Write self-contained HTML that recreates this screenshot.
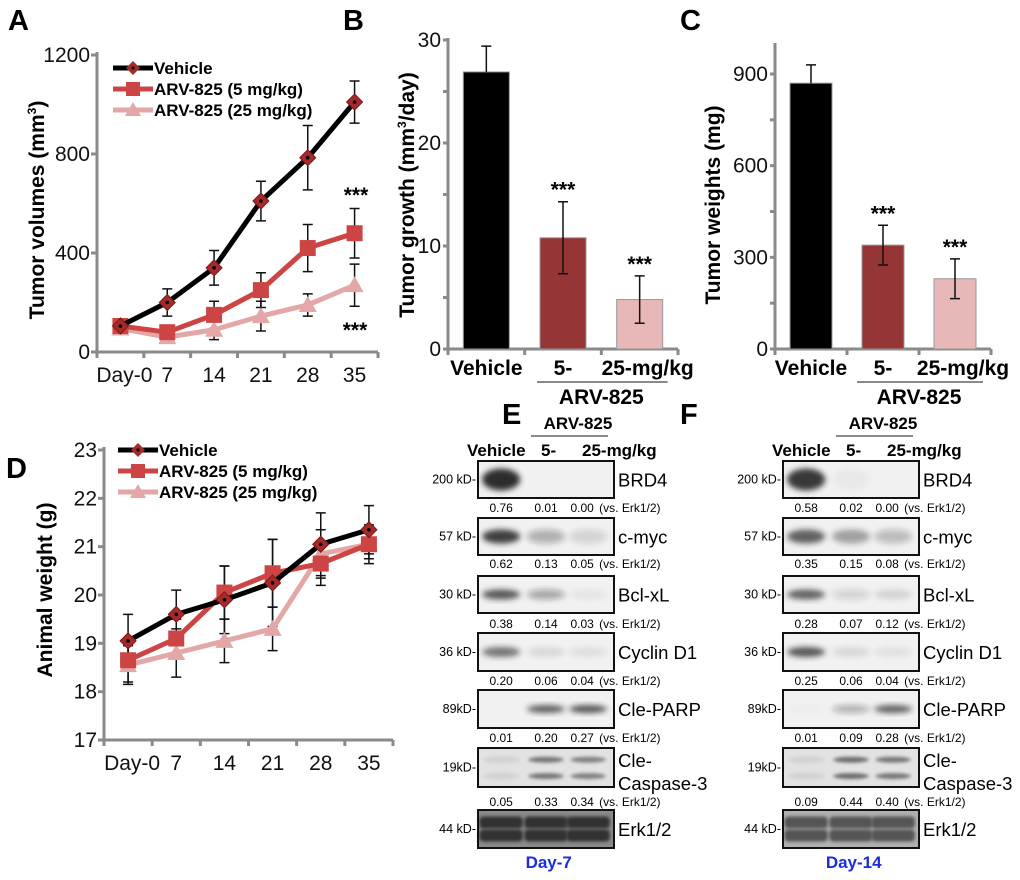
<!DOCTYPE html>
<html><head><meta charset="utf-8"><style>
body{margin:0;background:#fff;}
svg{display:block;font-family:"Liberation Sans",Arial,sans-serif;}
.pl{font-size:29px;font-weight:bold;}
.tk{font-size:21px;fill:#111;}
.ax{stroke:#8a8a8a;stroke-width:3;fill:none;}
.ttl{font-size:21px;font-weight:bold;}
.lg{font-size:17px;font-weight:bold;}
.bl{font-size:17px;font-weight:bold;}
.kd{font-size:12.5px;}
.val{font-size:12px;}
.pn{font-size:18.5px;}
</style></head><body>
<svg id="fig" width="1020" height="880" viewBox="0 0 1020 880">
<defs>
<filter id="blur" x="-50%" y="-50%" width="200%" height="200%"><feGaussianBlur stdDeviation="3"/></filter>
<filter id="blur2" x="-50%" y="-50%" width="200%" height="200%"><feGaussianBlur stdDeviation="1.6"/></filter>
</defs>
<text x="8" y="30" class="pl">A</text>
<text x="343" y="30" class="pl">B</text>
<text x="680" y="30" class="pl">C</text>
<text x="6" y="478" class="pl">D</text>
<text x="502" y="424" class="pl">E</text>
<text x="680" y="424" class="pl">F</text>
<g id="gA"></g>
<g id="gB"></g>
<g id="gC"></g>
<g id="gD"></g>
<g id="gE"></g>
<g id="gF"></g>
</svg>
<script>
// ---- Panel A data ----
const daysA = ["Day-0","7","14","21","28","35"];
const volVehicle = [105,200,340,610,785,1010];
const volVehicleErr = [0,55,70,80,130,85];
const vol5 = [105,80,150,250,420,480];
const vol5Err = [0,20,55,70,95,100];
const vol25 = [95,60,90,145,190,270];
const vol25Err = [0,15,40,60,45,85];
const ticksA = [0,400,800,1200];
// ---- Panel B data ----
const catsB = ["Vehicle","5-","25-mg/kg"];
const growth = [26.9,10.8,4.8];
const growthErr = [2.5,3.5,2.3];
const ticksB = [0,10,20,30];
// ---- Panel C data ----
const weights = [870,340,230];
const weightsErr = [60,65,65];
const ticksC = [0,300,600,900];
// ---- Panel D data ----
const daysD = ["Day-0","7","14","21","28","35"];
const bwVehicle = [19.05,19.6,19.9,20.25,21.05,21.35];
const bwVehicleErr = [0.55,0.5,0.7,0.9,0.65,0.5];
const bw5 = [18.65,19.1,20.05,20.45,20.65,21.05];
const bw5Err = [0.45,0.4,0.55,0.7,0.45,0.3];
const bw25 = [18.55,18.8,19.05,19.3,20.85,21.05];
const bw25Err = [0.4,0.5,0.45,0.45,0.5,0.4];
const ticksD = [17,18,19,20,21,22,23];
// ---- Blot data ----
const blotNames = ["BRD4","c-myc","Bcl-xL","Cyclin D1","Cle-PARP","Cle-Caspase-3","Erk1/2"];
const blotKd = ["200 kD-","57 kD-","30 kD-","36 kD-","89kD-","19kD-","44 kD-"];
const quantE = [["0.76","0.01","0.00"],["0.62","0.13","0.05"],["0.38","0.14","0.03"],["0.20","0.06","0.04"],["0.01","0.20","0.27"],["0.05","0.33","0.34"]];
const quantF = [["0.58","0.02","0.00"],["0.35","0.15","0.08"],["0.28","0.07","0.12"],["0.25","0.06","0.04"],["0.01","0.09","0.28"],["0.09","0.44","0.40"]];
const bandE = [[0.95,0,0],[0.85,0.3,0.15],[0.75,0.35,0.05],[0.6,0.1,0.08],[0,0.7,0.75],[0.1,0.6,0.55],[1,1,1]];
const bandF = [[0.9,0.03,0],[0.7,0.4,0.25],[0.7,0.15,0.12],[0.75,0.1,0.07],[0.02,0.3,0.7],[0.1,0.65,0.6],[1,1,1]];

const NS="http://www.w3.org/2000/svg";
function el(tag,attrs,parent,text){const e=document.createElementNS(NS,tag);for(const k in attrs)e.setAttribute(k,attrs[k]);if(text!==undefined)e.textContent=text;parent.appendChild(e);return e;}

function lineChart(g, cfg){
  const {x0,x1,y0,y1,vmin,vmax,cats,ticks,series} = cfg;
  const n=cats.length, step=(x1-x0)/n;
  const sx=i=>x0+step*(i+0.5);
  const sy=v=>y0-(v-vmin)/(vmax-vmin)*(y0-y1);
  const ya=el("line",{x1:x0,y1:y1-3,x2:x0,y2:y0,class:"ax"},g);
  
  
  const xa=el("line",{x1:x0,y1:y0,x2:x1,y2:y0,class:"ax"},g);
  
  
  for(let i=0;i<=n;i++){el("line",{x1:x0+step*i,y1:y0,x2:x0+step*i,y2:y0+6,class:"ax"},g);}
  ticks.forEach(t=>{
    el("line",{x1:x0-6,y1:sy(t),x2:x0,y2:sy(t),class:"ax"},g);
    const tl=el("text",{x:x0-7,y:sy(t)+7,"text-anchor":"end",class:"tk"},g,String(t));
    
    
  });
  cats.forEach((c,i)=>{
    const tl=el("text",{x:sx(i)+(i===0?4:0),y:y0+30,"text-anchor":"middle",class:"tk"},g,c);
    
    
  });
  series.forEach(s=>{
    s.vals.forEach((v,i)=>{
      const e=s.err[i]; if(!e) return;
      const x=sx(i);
      const eb=el("path",{d:`M${x},${sy(v-e)}V${sy(v+e)}M${x-5},${sy(v-e)}h10M${x-5},${sy(v+e)}h10`,stroke:"#111","stroke-width":1.5,fill:"none"},g);
      
      
    });
  });
  series.slice().reverse().forEach(s=>{
    const pts=s.vals.map((v,i)=>[sx(i),sy(v)]);
    const ln=el("polyline",{points:pts.map(p=>p.join(",")).join(" "),stroke:s.color,"stroke-width":5,fill:"none","stroke-linejoin":"round"},g);
    
    
    pts.forEach(p=>{
      let m;
      if(s.marker==="d"){m=el("path",{d:`M${p[0]},${p[1]-8}L${p[0]+8},${p[1]}L${p[0]},${p[1]+8}L${p[0]-8},${p[1]}Z`,fill:"#a52a2a",stroke:"#7a1a1a","stroke-width":1},g);el("circle",{cx:p[0],cy:p[1],r:1.8,fill:"#000"},g);}
      else if(s.marker==="s"){m=el("rect",{x:p[0]-8,y:p[1]-8,width:16,height:16,fill:s.color},g);}
      else {m=el("path",{d:`M${p[0]},${p[1]-9}L${p[0]+9},${p[1]+7}L${p[0]-9},${p[1]+7}Z`,fill:s.color},g);}
      
      
    });
  });
}
function legend(g,x,y,gap){
  const items=[["Vehicle","#000","d"],["ARV-825 (5 mg/kg)","#cc4444","s"],["ARV-825 (25 mg/kg)","#e3a7a7","t"]];
  items.forEach((it,i)=>{
    const yy=y+i*gap;
    el("line",{x1:x,y1:yy,x2:x+40,y2:yy,stroke:it[1],"stroke-width":5},g);
    const cx=x+20;
    if(it[2]==="d"){el("path",{d:`M${cx},${yy-7}L${cx+7},${yy}L${cx},${yy+7}L${cx-7},${yy}Z`,fill:"#a52a2a"},g);el("circle",{cx:cx,cy:yy,r:1.6,fill:"#000"},g);}
    else if(it[2]==="s"){el("rect",{x:cx-7,y:yy-7,width:14,height:14,fill:it[1]},g);}
    else el("path",{d:`M${cx},${yy-8}L${cx+8},${yy+6}L${cx-8},${yy+6}Z`,fill:it[1]},g);
    const t=el("text",{x:x+41,y:yy+6,class:"lg"},g,it[0]);
    
    
  });
}
// Panel A
const gA=document.getElementById("gA");
lineChart(gA,{x0:97,x1:378,y0:352,y1:55,vmin:0,vmax:1200,cats:daysA,ticks:ticksA,
  series:[{name:"vehicle",vals:volVehicle,err:volVehicleErr,color:"#000",marker:"d"},
          {name:"arv825-5mg",vals:vol5,err:vol5Err,color:"#cc4444",marker:"s"},
          {name:"arv825-25mg",vals:vol25,err:vol25Err,color:"#e3a7a7",marker:"t"}]});
legend(gA,113,68,21);
el("text",{x:356,y:202,"text-anchor":"middle",class:"ttl"},gA,"***");
el("text",{x:355,y:337,"text-anchor":"middle",class:"ttl"},gA,"***");
const tA=el("text",{transform:"translate(44,210) rotate(-90)","text-anchor":"middle",class:"ttl"},gA);
tA.innerHTML='Tumor volumes (mm<tspan dy="-8" font-size="12">3</tspan><tspan dy="8">)</tspan>';



function barChart(g,cfg){
  const {x0,x1,y0,y1,ytop,vmax,vals,err,ticks,minor,bw}=cfg;
  const n=vals.length, step=(x1-x0)/n;
  const sy=v=>y0-v/vmax*(y0-y1);
  const sx=i=>x0+step*(i+0.5);
  el("line",{x1:x0,y1:ytop,x2:x0,y2:y0,class:"ax"},g);
  el("line",{x1:x0,y1:y0,x2:x1,y2:y0,class:"ax"},g);
  for(let i=0;i<=n;i++) el("line",{x1:x0+step*i,y1:y0,x2:x0+step*i,y2:y0+6,class:"ax"},g);
  minor.forEach(t=>el("line",{x1:x0-5,y1:sy(t),x2:x0,y2:sy(t),class:"ax"},g));
  ticks.forEach(t=>{const tl=el("text",{x:x0-7,y:sy(t)+7,"text-anchor":"end",class:"tk"},g,String(t));
    
    });
  const cols=["#000","#953535","#e8b8b8"];
  vals.forEach((v,i)=>{
    const b=el("rect",{x:sx(i)-bw/2,y:sy(v),width:bw,height:y0-sy(v),fill:cols[i],stroke:"#999","stroke-width":1},g);
    
    
    const e=err[i];
    const lo=i===0?v:v-e;
    el("path",{d:`M${sx(i)},${sy(lo)}V${sy(v+e)}M${sx(i)-5},${sy(v+e)}h10`+(i===0?"":`M${sx(i)-5},${sy(v-e)}h10`),stroke:"#111","stroke-width":1.5,fill:"none"},g);
    if(i>0) el("text",{x:sx(i),y:sy(v+e)-5,"text-anchor":"middle",class:"ttl"},g,"***");
    const cl=el("text",{x:sx(i)+(i===2?8:0),y:y0+26,"text-anchor":"middle",class:"ttl"},g,catsB[i]);
    
    
  });
  el("line",{x1:sx(1)-26,y1:y0+33,x2:sx(2)+28,y2:y0+33,stroke:"#8a8a8a","stroke-width":2},g);
  el("text",{x:(sx(1)+sx(2))/2,y:y0+55,"text-anchor":"middle",class:"ttl"},g,"ARV-825");
}
const gB=document.getElementById("gB");
barChart(gB,{x0:448,x1:678,y0:349,y1:40,ytop:38,vmax:30,vals:growth,err:growthErr,ticks:ticksB,minor:[0,5,10,15,20,25,30],bw:46});
const tB=el("text",{transform:"translate(414,195) rotate(-90)","text-anchor":"middle",class:"ttl"},gB);
tB.innerHTML='Tumor growth (mm<tspan dy="-8" font-size="12">3</tspan><tspan dy="8">/day)</tspan>';


const gC=document.getElementById("gC");
barChart(gC,{x0:775,x1:991,y0:349,y1:74,ytop:43,vmax:900,vals:weights,err:weightsErr,ticks:ticksC,minor:[0,150,300,450,600,750,900],bw:42});
const tC=el("text",{transform:"translate(720,205) rotate(-90)","text-anchor":"middle",class:"ttl"},gC,"Tumor weights (mg)");



// Panel D
const gD=document.getElementById("gD");
lineChart(gD,{x0:104,x1:393,y0:740,y1:450,vmin:17,vmax:23,cats:daysD,ticks:ticksD,
  series:[{name:"vehicle",vals:bwVehicle,err:bwVehicleErr,color:"#000",marker:"d"},
          {name:"arv825-5mg",vals:bw5,err:bw5Err,color:"#cc4444",marker:"s"},
          {name:"arv825-25mg",vals:bw25,err:bw25Err,color:"#e3a7a7",marker:"t"}]});
legend(gD,118,450,21);
const tD=el("text",{transform:"translate(52,590) rotate(-90)","text-anchor":"middle",class:"ttl"},gD,"Animal weight (g)");



// Blots
const rowsY=[461,518,576,633,690,748,810];
const rowsH=[37,37,37,38,38,39,38];
const valY=[508,564,624,681,738,802];
function blot(g,bx,bw2,quant,bands,day,erkDark){
  const lanes=[bx+bw2*0.17,bx+bw2*0.5,bx+bw2*0.81];
  el("text",{x:bx-11,y:456,class:"bl"},g,"Vehicle");
  el("text",{x:bx+63,y:456,class:"bl"},g,"5-");
  el("text",{x:bx+104,y:456,class:"bl"},g,"25-mg/kg");
  el("text",{x:bx+100,y:429,"text-anchor":"middle",class:"bl"},g,"ARV-825");
  el("line",{x1:bx+53,y1:436,x2:bx+130,y2:436,stroke:"#8a8a8a","stroke-width":2},g);
  rowsY.forEach((y,r)=>{
    const h=rowsH[r];
    const bg=r===5?"#e2e2e2":(r===6?(erkDark?"#8a8a8a":"#b0b0b0"):"#f1f1f1");
    const box=el("rect",{x:bx,y:y,width:bw2,height:h,fill:bg},g);
    
    
    lanes.forEach((lx,l)=>{
      const a=bands[r][l]; if(a<=0) return;
      if(r===5){
        [y+h*0.3,y+h*0.72].forEach(by=>el("ellipse",{cx:lx,cy:by,rx:bw2*0.13,ry:3,fill:"#333","fill-opacity":a,filter:"url(#blur2)"},g));
      } else if(r===6){
        [y+h*0.33,y+h*0.67].forEach(by=>el("rect",{x:lx-bw2*0.16,y:by-6,width:bw2*0.32,height:12,rx:4,fill:erkDark?"#333":"#555",filter:"url(#blur2)"},g));
      } else {
        const ry=r===0?11:(r===1?7:(r===4?4:5));
        el("ellipse",{cx:lx,cy:y+h/2,rx:bw2*0.14,ry:ry,fill:"#222","fill-opacity":a,filter:"url(#blur)"},g);
      }
    });
    el("rect",{x:bx,y:y,width:bw2,height:h,fill:"none",stroke:"#111","stroke-width":2},g);
    el("text",{x:bx-2,y:y+h/2+4,"text-anchor":"end",class:"kd"},g,blotKd[r]);
    if(r===5){
      el("text",{x:bx+bw2+4,y:y+19,class:"pn"},g,"Cle-");
      el("text",{x:bx+bw2+4,y:y+42,class:"pn"},g,"Caspase-3");
    } else el("text",{x:bx+bw2+4,y:y+h/2+7,class:"pn"},g,blotNames[r]);
    if(r<6){
      quant[r].forEach((q,l)=>el("text",{x:lanes[l]+(l===2?-6:0),y:valY[r]+4,"text-anchor":"middle",class:"val"},g,q));
      el("text",{x:lanes[2]+11,y:valY[r]+4,class:"val"},g,"(vs. Erk1/2)");
    }
  });
  const dl=el("text",{x:bx+bw2*0.52,y:868,"text-anchor":"middle",class:"bl",fill:"#1a2de0","font-size":"21px"},g,day);
  
  
}
blot(document.getElementById("gE"),478,136,quantE,bandE,"Day-7",true);
blot(document.getElementById("gF"),783,136,quantF,bandF,"Day-14",false);
</script>
</body></html>
